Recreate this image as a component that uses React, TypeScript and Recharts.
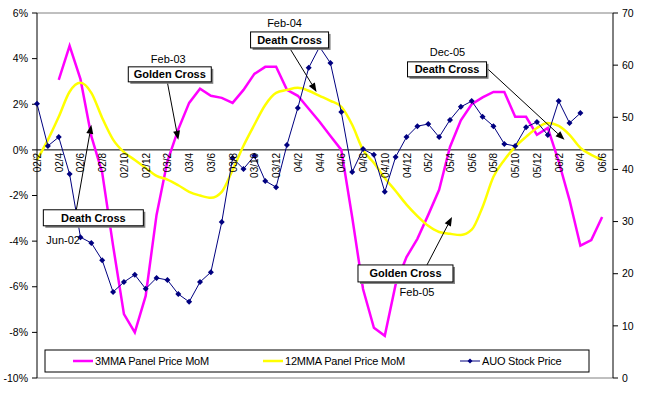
import React from 'react';
import {
  ComposedChart,
  Line,
  XAxis,
  YAxis,
  ReferenceLine,
  ReferenceDot,
} from 'recharts';

const months = [
  '02/2', '02/3', '02/4', '02/5', '02/6', '02/7', '02/8', '02/9', '02/10', '02/11', '02/12',
  '03/1', '03/2', '03/3', '03/4', '03/5', '03/6', '03/7', '03/8', '03/9', '03/10', '03/11', '03/12',
  '04/1', '04/2', '04/3', '04/4', '04/5', '04/6', '04/7', '04/8', '04/9', '04/10', '04/11', '04/12',
  '05/1', '05/2', '05/3', '05/4', '05/5', '05/6', '05/7', '05/8', '05/9', '05/10', '05/11', '05/12',
  '06/1', '06/2', '06/3', '06/4', '06/5', '06/6', '06/7',
];

// 3-month moving average of panel price MoM (%)
const mma3 = [
  null, null, 3.07, 4.56, 3.1, 0.6, -1.0, -4.2, -7.2, -8.0, -6.4,
  -2.85, -0.5, 0.9, 2.06, 2.68, 2.37, 2.28, 2.06, 2.63, 3.33, 3.64, 3.64,
  2.63, 2.37, 1.8, 1.23, 0.61, 0.0, -2.94, -6.1, -7.8, -8.15, -5.9, -4.7,
  -3.9, -2.85, -1.75, 0.13, 1.3, 2.0, 2.3, 2.54, 2.54, 1.45, 1.45, 0.66,
  0.96, -0.5, -2.2, -4.2, -3.95, -2.94, null,
];

// 12-month moving average of panel price MoM (%)
const mma12 = [
  -0.44, 0.44, 1.45, 2.55, 2.94, 2.5, 1.4, 0.45, -0.1, -0.44, -0.79,
  -1.14, -1.3, -1.55, -1.84, -2.0, -2.1, -1.84, -0.88, 0.18, 1.1, 1.97, 2.5,
  2.63, 2.72, 2.59, 2.37, 2.15, 1.89, 1.1, 0.0, -0.57, -1.23, -1.8, -2.4,
  -2.9, -3.33, -3.6, -3.68, -3.73, -3.5, -2.5, -1.18, -0.44, 0.13, 0.57, 0.96,
  1.18, 1.05, 0.66, 0.09, -0.22, -0.44, null,
];

// AUO stock price
const auo = [
  52.6, 44.5, 46.2, 39.1, 27.0, 25.9, 22.6, 16.5, 18.4, 19.8, 17.1,
  19.2, 18.8, 16.1, 14.6, 18.4, 20.3, 29.9, 42.2, 40.1, 42.6, 37.8, 36.6,
  44.7, 51.8, 59.5, 63.5, 60.4, 51.0, 39.5, 43.9, 42.8, 35.7, 42.4, 46.2,
  48.3, 48.7, 46.2, 49.5, 52.0, 53.1, 50.1, 48.3, 44.9, 44.5, 48.1, 49.1,
  46.6, 53.1, 48.9, 50.8, null, null, null,
];

const leftTicks = [-10, -8, -6, -4, -2, 0, 2, 4, 6];
const rightTicks = [0, 10, 20, 30, 40, 50, 60, 70];

const series = [
  { key: 'mma3', name: '3MMA Panel Price MoM', color: '#FF00FF' },
  { key: 'mma12', name: '12MMA Panel Price MoM', color: '#FFFF00' },
  { key: 'auo', name: 'AUO Stock Price', color: '#000080' },
];

// callouts: anchored at the arrow tip (month, % value), rest in pixel offsets
const callouts = [
  { month: '02/7', value: 1.1, title: 'Death Cross', date: 'Jun-02', tip: [0, 0], box: [-48, 85, 100, 16], from: [-15, 85], label: [-45, 119, 'start'] },
  { month: '03/3', value: 0.44, title: 'Golden Cross', date: 'Feb-03', tip: [0, 0], box: [-50, -73, 83, 15], from: [-11, -58], label: [-10, -77, 'middle'] },
  { month: '04/4', value: 2.54, title: 'Death Cross', date: 'Feb-04', tip: [-3, 0], box: [-69, -60, 78, 16], from: [-30, -44], label: [-35, -65, 'middle'] },
  { month: '06/3', value: 0.44, title: 'Death Cross', date: 'Dec-05', tip: [-5, 0], box: [-162, -78, 79, 15], from: [-83, -72], label: [-122, -84, 'middle'] },
  { month: '05/4', value: -2.94, title: 'Golden Cross', date: 'Feb-05', tip: [2, 0], box: [-92, 48, 95, 17], from: [-23, 48], label: [-33, 79, 'middle'] },
];

const data = months.map((m, i) => ({ month: m, mma3: mma3[i], mma12: mma12[i], auo: auo[i] }));

const W = 655;
const H = 398;
const TOP = 13;
const X_AXIS_H = 20;
const LEFT_W = 37;
const RIGHT_W = 42;
const LEFT_MIN = -10;
const LEFT_MAX = 6;
const PLOT_H = H - TOP - X_AXIS_H;
const ZERO_OFFSET = (PLOT_H * (0 - LEFT_MIN)) / (LEFT_MAX - LEFT_MIN);
const FONT = '"Liberation Sans", Arial, sans-serif';

const XTick = (props: any) => {
  const { x, y, payload } = props;
  return (
    <text
      transform={`translate(${x + 4},${y - ZERO_OFFSET + 3}) rotate(-90)`}
      textAnchor="end"
      fontSize={10}
      fontFamily={FONT}
      fill="#000"
    >
      {payload.value}
    </text>
  );
};

const Diamond = ({ cx, cy, size = 3, color = '#000080' }: any) => {
  if (cx == null || cy == null) return <g />;
  return <path d={`M${cx},${cy - size}L${cx + size},${cy}L${cx},${cy + size}L${cx - size},${cy}Z`} fill={color} />;
};

const Callout = (props: any) => {
  const { cx, cy, c } = props;
  if (cx == null || cy == null) return <g />;
  const tx = cx + c.tip[0];
  const ty = cy + c.tip[1];
  const sx = cx + c.from[0];
  const sy = cy + c.from[1];
  const [bx, by, bw, bh] = c.box;
  const ang = Math.atan2(ty - sy, tx - sx);
  const len = 9;
  const hw = 3.5;
  const baseX = tx - len * Math.cos(ang);
  const baseY = ty - len * Math.sin(ang);
  const px = -Math.sin(ang) * hw;
  const py = Math.cos(ang) * hw;
  return (
    <g>
      <line x1={sx} y1={sy} x2={baseX} y2={baseY} stroke="#000" strokeWidth={1} />
      <polygon points={`${tx},${ty} ${baseX + px},${baseY + py} ${baseX - px},${baseY - py}`} fill="#000" />
      <rect x={cx + bx + 2} y={cy + by + 2} width={bw} height={bh} fill="#808080" />
      <rect x={cx + bx} y={cy + by} width={bw} height={bh} fill="#fff" stroke="#000" strokeWidth={1} />
      <text
        x={cx + bx + bw / 2}
        y={cy + by + bh / 2 + 4}
        textAnchor="middle"
        fontSize={11}
        fontWeight="bold"
        fontFamily={FONT}
        fill="#000"
      >
        {c.title}
      </text>
      <text x={cx + c.label[0]} y={cy + c.label[1]} textAnchor={c.label[2]} fontSize={11} fontFamily={FONT} fill="#000">
        {c.date}
      </text>
    </g>
  );
};

const LegendBox = () => {
  const starts = [29, 219, 416];
  return (
    <svg width={548} height={25} style={{ position: 'absolute', left: 44, top: 349 }}>
      <rect x={1} y={1} width={544} height={22} fill="#fff" stroke="#000" strokeWidth={1} />
      {series.map((s, i) => (
        <g key={s.key}>
          <line
            x1={starts[i]}
            x2={starts[i] + 20}
            y1={12}
            y2={12}
            stroke={s.color}
            strokeWidth={s.key === 'auo' ? 1 : 2.5}
          />
          {s.key === 'auo' && <Diamond cx={starts[i] + 10} cy={12} size={2.5} color={s.color} />}
          <text
            x={starts[i] + 22}
            y={16}
            fontSize={11}
            fontFamily={FONT}
            letterSpacing={-0.2}
            fill="#000"
          >
            {s.name}
          </text>
        </g>
      ))}
    </svg>
  );
};

const App: React.FC = () => {
  return (
    <div style={{ position: 'absolute', left: 0, top: 0, width: W, height: H, background: '#fff' }}>
      <ComposedChart width={W} height={H} data={data} margin={{ top: TOP, right: 0, bottom: 0, left: 0 }}>
        <XAxis
          dataKey="month"
          height={X_AXIS_H}
          interval={1}
          axisLine={false}
          tickLine={false}
          tickSize={0}
          tickMargin={0}
          tick={(p: any) => <XTick {...p} />}
        />
        <YAxis
          yAxisId="left"
          width={LEFT_W}
          domain={[LEFT_MIN, LEFT_MAX]}
          ticks={leftTicks}
          tickFormatter={(v) => `${v}%`}
          axisLine={{ stroke: '#000' }}
          tickLine={{ stroke: '#000' }}
          tickSize={5}
          tickMargin={4}
          tick={{ fontSize: 10.5, fontFamily: FONT, fill: '#000' }}
        />
        <YAxis
          yAxisId="right"
          orientation="right"
          width={RIGHT_W}
          domain={[0, 70]}
          ticks={rightTicks}
          axisLine={{ stroke: '#000' }}
          tickLine={{ stroke: '#000' }}
          tickSize={5}
          tickMargin={4}
          tick={{ fontSize: 10.5, fontFamily: FONT, fill: '#000', textAnchor: 'start' }}
        />
        <ReferenceLine yAxisId="left" y={LEFT_MAX} stroke="#808080" />
        <ReferenceLine yAxisId="left" y={LEFT_MIN} stroke="#808080" />
        <ReferenceLine yAxisId="left" y={0} stroke="#000" />
        <Line
          yAxisId="left"
          dataKey="mma3"
          name={series[0].name}
          type="linear"
          stroke={series[0].color}
          strokeWidth={2.5}
          dot={false}
          isAnimationActive={false}
        />
        <Line
          yAxisId="left"
          dataKey="mma12"
          name={series[1].name}
          type="monotone"
          stroke={series[1].color}
          strokeWidth={2.5}
          dot={false}
          isAnimationActive={false}
        />
        <Line
          yAxisId="right"
          dataKey="auo"
          name={series[2].name}
          type="linear"
          stroke={series[2].color}
          strokeWidth={1}
          dot={(p: any) => <Diamond key={`d-${p.index}`} cx={p.cx} cy={p.cy} />}
          isAnimationActive={false}
        />
        {callouts.map((c, i) => (
          <ReferenceDot
            key={`c-${i}`}
            yAxisId="left"
            x={c.month}
            y={c.value}
            r={0}
            ifOverflow="visible"
            shape={(p: any) => <Callout {...p} c={c} />}
          />
        ))}
      </ComposedChart>
      <LegendBox />
    </div>
  );
};

export default App;
